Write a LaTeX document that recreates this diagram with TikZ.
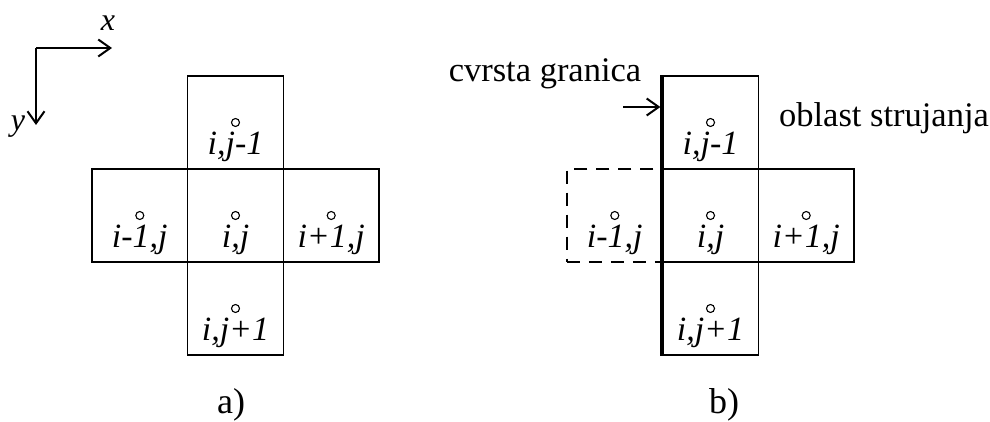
\documentclass[tikz,border=0pt]{standalone}
\usepackage{fontspec}
\setmainfont{Liberation Serif}
\usetikzlibrary{arrows.meta}
\begin{document}
\begin{tikzpicture}[x=1pt,y=-1pt,
  cell/.style={draw,line width=1.5pt,rectangle,inner sep=0pt,minimum width=95.7pt,minimum height=93pt},
  ghost/.style={cell,dash pattern=on 13pt off 9pt},
  pt/.style={draw,circle,line width=1.1pt,inner sep=0pt,minimum size=8pt},
  lbl/.style={anchor=base,inner sep=0pt,font=\fontsize{34}{38}\selectfont\itshape},
  txt/.style={anchor=base,inner sep=0pt,font=\fontsize{34.5}{38}\selectfont},
  arr/.style={line width=1.5pt,-{Straight Barb[length=12pt,width=17pt,line width=2pt]}}
]
\useasboundingbox (0,0) rectangle (990,422);
% axes
\coordinate (o) at (36,48);
\coordinate (xe) at (112,48);
\coordinate (ye) at (36,125);
\draw[arr] (o) -- (xe);
\draw[arr] (o) -- (ye);
\node[lbl,font=\fontsize{32}{38}\selectfont\itshape] (xl) at (108,31) {x};
\node[lbl,font=\fontsize{32}{38}\selectfont\itshape] (yl) at (18,131) {y};
% diagram a
\node[cell] (aN) at (235.5,122.5) {};
\node[cell] (aC) at (235.5,215.5) {};
\node[cell] (aS) at (235.5,308.5) {};
\node[cell] (aW) at (139.8,215.5) {};
\node[cell] (aE) at (331.2,215.5) {};
\foreach \c/\t in {aN/{i,j-1},aC/{i,j},aS/{i,j+1},aW/{i-1,j},aE/{i+1,j}}{
  \node[pt] (\c p) at (\c.center) {};
  \node[lbl] (\c t) at ([yshift=-32pt]\c.center) {\t};
}
\node[txt,font=\fontsize{36}{40}\selectfont] (la) at (231,413) {a)};
% diagram b
\node[ghost] (bW) at (614.8,215.5) {};
\node[cell] (bN) at (710.5,122.5) {};
\node[cell] (bC) at (710.5,215.5) {};
\node[cell] (bS) at (710.5,308.5) {};
\node[cell] (bE) at (806.2,215.5) {};
\foreach \c/\t in {bN/{i,j-1},bC/{i,j},bS/{i,j+1},bW/{i-1,j},bE/{i+1,j}}{
  \node[pt] (\c p) at (\c.center) {};
  \node[lbl] (\c t) at ([yshift=-32pt]\c.center) {\t};
}
\draw[line width=3.5pt] (bN.north west) -- (bS.south west);
\node[txt] (cg) at (545,82) {cvrsta granica};
\coordinate (as) at (623,107);
\draw[arr] (as) -- ([xshift=-1.5pt]bN.west |- as);
\node[txt] (os) at (884,127) {oblast strujanja};
\node[txt,font=\fontsize{36}{40}\selectfont] (lb) at (724,413) {b)};
\end{tikzpicture}
\end{document}
